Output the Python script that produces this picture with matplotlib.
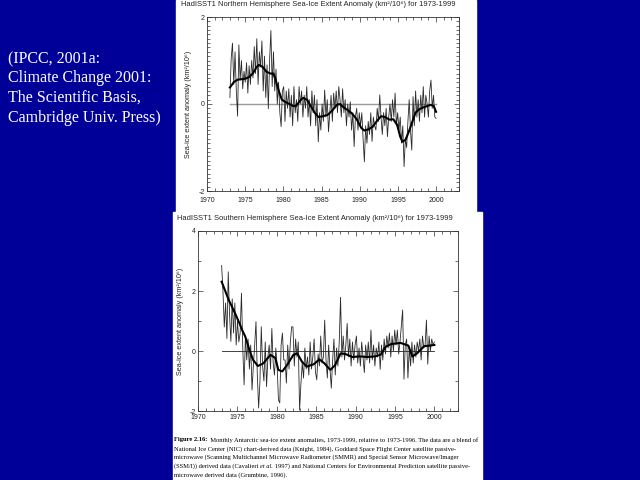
import numpy as np
import matplotlib.pyplot as plt
from matplotlib.patches import Rectangle
from matplotlib.ticker import MultipleLocator

plt.rcParams["axes.unicode_minus"] = False

# Northern hemisphere: monthly anomaly read every ~2 months, 1973-1999
nh_monthly = [
    0.15, 1.05, 1.40, 0.45, 1.20, 0.30,
    -0.28, 1.36, 0.55, 1.00, 0.35, 0.75,
    0.50, 0.95, 0.25, 0.88, 0.45, 1.00,
    0.60, 1.32, 0.70, 1.50, 0.45, 1.20,
    0.85, 1.45, 0.30, 1.10, 0.15, 0.90,
    -0.11, 1.00, 1.69, 0.40, 1.20, 0.30,
    0.80, 0.00, 0.50, -0.20, -0.52, 0.30,
    0.40, -0.40, 0.30, -0.10, 0.35, -0.30,
    0.20, -0.50, 0.40, -0.20, 0.10, -0.40,
    0.40, 0.00, 0.30, -0.30, 0.20, -0.10,
    0.40, -0.30, 0.10, -0.50, 0.30, -0.20,
    0.20, -0.50, 0.10, -0.87, -0.20, -0.60,
    0.00, -0.40, 0.32, -0.30, 0.10, -0.64,
    -0.20, 0.20, -0.40, 0.25, -0.10, 0.30,
    -0.20, 0.40, 0.10, -0.30, 0.35, -0.20,
    0.10, -0.50, 0.00, -0.30, 0.05, -0.60,
    -0.20, -0.98, -0.30, -0.10, -0.60, -0.20,
    -0.50, -0.20, -0.80, -1.33, -0.50, -0.90,
    -0.40, -0.70, -0.20, -0.86, -0.30, -0.50,
    -0.60, -0.10, -0.40, 0.21, -0.30, -0.70,
    -0.20, -0.50, -0.10, -0.75, -0.30, 0.00,
    -0.40, 0.10, -0.30, 0.25, -0.50, -0.20,
    -0.60, -0.30, -0.90, -0.50, -1.44, -0.80,
    -1.00, -0.40, 0.10, -0.60, -1.06, 0.17,
    -0.50, 0.30, -0.30, 0.10, -0.40, 0.20,
    -0.20, 0.40, -0.30, 0.20, 0.00, -0.30,
    0.30, 0.55, -0.10, 0.20, -0.30, -0.33,
]
nh_smooth_yr = [1973.0, 1973.5, 1974.0, 1974.5, 1975.0, 1975.5, 1976.0, 1976.5, 1976.8,
                1977.3, 1977.8, 1978.3, 1978.7, 1979.0, 1979.4, 1979.8, 1980.3, 1980.8,
                1981.3, 1981.7, 1982.2, 1982.6, 1983.1, 1983.6, 1984.1, 1984.6, 1985.2,
                1985.8, 1986.4, 1987.0, 1987.4, 1987.9, 1988.5, 1989.0, 1989.6, 1990.2,
                1990.6, 1991.2, 1991.7, 1992.3, 1992.8, 1993.3, 1993.9, 1994.4, 1994.9,
                1995.3, 1995.6, 1996.0, 1996.4, 1996.9, 1997.3, 1997.8, 1998.3, 1998.8,
                1999.3, 1999.7, 2000.0]
nh_smooth = [0.38, 0.50, 0.56, 0.57, 0.58, 0.62, 0.70, 0.85, 0.90,
             0.85, 0.74, 0.70, 0.70, 0.55, 0.30, 0.10, 0.04, 0.00,
             -0.05, -0.04, 0.08, 0.14, 0.10, -0.05, -0.20, -0.30, -0.28,
             -0.25, -0.15, -0.02, 0.00, -0.08, -0.15, -0.22, -0.35, -0.55,
             -0.61, -0.58, -0.52, -0.38, -0.28, -0.30, -0.36, -0.35, -0.48,
             -0.75, -0.87, -0.82, -0.65, -0.40, -0.20, -0.12, -0.08, -0.05,
             -0.02, -0.05, -0.18]

# Southern hemisphere
sh_monthly = [
    2.85, 2.00, 0.80, 1.60, 0.42, 2.64,
    1.20, 0.32, 1.74, 0.60, 1.60, 0.20,
    1.00, 0.30, 0.60, 1.93, 0.10, -1.13,
    0.50, -0.30, 0.40, -0.60, 0.20, -1.30,
    -0.50, 0.20, 0.98, -0.80, -1.90, -1.00,
    0.81, -0.50, -1.00, 0.30, -1.19, -0.20,
    0.20, -0.60, 0.75, -0.40, -0.80, 0.10,
    -0.50, -1.63, -1.73, 0.20, 0.60, -0.30,
    -0.30, -1.07, 0.20, -0.60, 0.30, 0.81,
    0.80, -0.50, 0.40, -0.20, 0.30, -1.97,
    -1.10, -0.40, -0.90, 0.10, -0.60, -0.20,
    -0.80, 0.30, -0.60, -0.20, 0.40, -0.70,
    -0.96, -0.10, -0.50, 0.50, -0.40, -0.20,
    1.03, -0.30, -0.90, 0.20, -0.60, -1.24,
    -0.30, 0.40, -0.80, 0.10, -0.50, 0.30,
    1.79, -0.20, 0.50, -0.30, 0.20, 0.92,
    -0.20, 0.40, -0.50, 0.30, -0.30, 0.20,
    0.50, -0.40, 0.10, -0.50, 0.30, -0.20,
    -0.72, 0.20, -0.30, 0.30, -0.40, 0.70,
    -0.30, 0.20, -0.50, 0.10, -0.20, 0.30,
    -0.61, 0.20, -0.30, 0.40, -0.10, 0.50,
    0.10, 0.60, -0.20, 0.50, 0.00, 0.70,
    0.20, 0.70, -0.10, 0.30, 0.85, 1.37,
    -0.94, 0.20, 0.40, -0.90, 0.10, -0.50,
    0.30, -0.40, 0.20, -0.20, 0.30, 0.00,
    0.40, -0.30, 0.50, 0.10, 0.20, 1.03,
    -0.44, 0.50, 0.00, 0.40, 0.20, 0.30,
]
sh_smooth_yr = [1973.0, 1973.9, 1974.7, 1975.3, 1975.6, 1976.0, 1976.6, 1977.0, 1977.6,
                1978.3, 1978.8, 1979.2, 1979.8, 1980.2, 1980.7, 1981.3, 1982.1, 1982.6,
                1983.2, 1983.8, 1984.7, 1985.4, 1986.0, 1986.8, 1987.4, 1988.1, 1988.7,
                1989.6, 1990.5, 1991.5, 1992.5, 1993.2, 1993.8, 1994.5, 1995.7, 1996.7,
                1997.2, 1997.8, 1998.7, 2000.0]
sh_smooth = [2.31, 1.70, 1.26, 0.90, 0.70, 0.48, -0.02, -0.30, -0.50,
             -0.41, -0.25, -0.13, -0.23, -0.63, -0.68, -0.47, -0.13, -0.08,
             -0.36, -0.52, -0.44, -0.28, -0.40, -0.63, -0.47, -0.08, -0.10,
             -0.20, -0.18, -0.20, -0.18, -0.12, 0.14, 0.23, 0.27, 0.18,
             -0.18, -0.08, 0.16, 0.20]

nh_titles = "HadISST1 Northern Hemisphere Sea-Ice Extent Anomaly (km\u00b2/10\u2076) for 1973-1999"
sh_titles = "HadISST1 Southern Hemisphere Sea-Ice Extent Anomaly (km\u00b2/10\u2076) for 1973-1999"
ylabel = "Sea-ice extent anomaly (km\u00b2/10\u2076)"
source_lines = ["(IPCC, 2001a:", "Climate Change 2001:", "The Scientific Basis,", "Cambridge Univ. Press)"]

sans = ["Liberation Sans", "DejaVu Sans"]
serif = ["Liberation Serif", "DejaVu Serif"]
W, H = 640, 480

fig = plt.figure(figsize=(6.4, 4.8), dpi=100, facecolor="#000099")

# white cut-outs for the two scanned panels
fig.patches.append(Rectangle((176 / W, 1 - 212 / H), 300 / W, 212 / H,
                             transform=fig.transFigure, color="white", zorder=-5))
fig.patches.append(Rectangle((173 / W, 0), 309 / W, 268 / H,
                             transform=fig.transFigure, color="white", zorder=-5))


def make_axes(box, ylim, ymaj, ymin, pad_x, pad_y):
    l, t, r, b = box
    ax = fig.add_axes([l / W, 1 - b / H, (r - l) / W, (b - t) / H])
    ax.set_facecolor("none")
    ax.set_xlim(1970, 2003)
    ax.set_ylim(*ylim)
    ax.xaxis.set_major_locator(MultipleLocator(5))
    ax.xaxis.set_minor_locator(MultipleLocator(1))
    ax.yaxis.set_major_locator(MultipleLocator(ymaj))
    ax.yaxis.set_minor_locator(MultipleLocator(ymin))
    ax.set_xticks(np.arange(1970, 2001, 5))
    for s in ax.spines.values():
        s.set_linewidth(0.6)
        s.set_color("#333333")
    ax.tick_params(which="both", direction="in", top=True, right=True,
                   width=0.5, color="#333333", labelsize=5, labelcolor="#222222")
    ax.tick_params(which="major", length=3.5)
    ax.tick_params(which="minor", length=2)
    ax.tick_params(axis="x", pad=pad_x)
    ax.tick_params(axis="y", pad=pad_y)
    for lab in ax.get_xticklabels() + ax.get_yticklabels():
        lab.set_family(sans)
    return ax


# top panel
ax1 = make_axes((207, 17, 459, 191), (-2, 2), 2, 0.1, 4, 1.5)
t_nh = np.linspace(1973, 2000, len(nh_monthly))
ax1.plot([1973, 2000], [0, 0], color="#9a9a9a", lw=1.0)
ax1.plot(t_nh, nh_monthly, color="#2a2a2a", lw=0.6)
ax1.plot(nh_smooth_yr, nh_smooth, color="black", lw=1.5)

# bottom panel
ax2 = make_axes((198, 231, 458, 411), (-2, 4), 2, 1, 2.5, 1.5)
t_sh = np.linspace(1973, 2000, len(sh_monthly))
ax2.plot([1973, 2000], [0, 0], color="#222222", lw=0.6)
ax2.plot(t_sh, sh_monthly, color="#2a2a2a", lw=0.6)
ax2.plot(sh_smooth_yr, sh_smooth, color="black", lw=1.5)

fig.text(318 / W, 1 - 5 / H, nh_titles, ha="center", va="center",
         fontsize=5.4, family=sans, color="#222222")
fig.text(315 / W, 1 - 218 / H, sh_titles, ha="center", va="center",
         fontsize=5.4, family=sans, color="#222222")
fig.text(188 / W, 1 - 104 / H, ylabel, rotation=90, ha="center", va="center",
         fontsize=5.2, family=sans, color="#222222")
fig.text(180 / W, 1 - 321 / H, ylabel, rotation=90, ha="center", va="center",
         fontsize=5.2, family=sans, color="#222222")

for i, line in enumerate(source_lines):
    fig.text(8 / W, 1 - (63 + 19.5 * i) / H, line, ha="left", va="baseline",
             fontsize=11.5, family=serif, color="white")

# caption under the lower panel, pieces placed one after another
caption = [
    [("Figure 2.16:", {"weight": "bold"}),
     ("  Monthly Antarctic sea-ice extent anomalies, 1973-1999, relative to 1973-1996. The data are a blend of", {})],
    [("National Ice Center (NIC) chart-derived data (Knight, 1984), Goddard Space Flight Center satellite passive-", {})],
    [("microwave (Scanning Multichannel Microwave Radiometer (SMMR) and Special Sensor Microwave/Imager", {})],
    [("(SSM/I)) derived data (Cavalieri ", {}), ("et al.", {"style": "italic"}),
     (" 1997) and National Centers for Environmental Prediction satellite passive-", {})],
    [("microwave derived data (Grumbine, 1996).", {})],
]
renderer = fig.canvas.get_renderer()
for i, pieces in enumerate(caption):
    x = 174 / W
    for txt, kw in pieces:
        t = fig.text(x, 1 - (440 + 8.8 * i) / H, txt, ha="left", va="center",
                     fontsize=4.65, family=serif, color="black", **kw)
        x = t.get_window_extent(renderer=renderer).x1 / W

fig.savefig("out.png", dpi=100, facecolor=fig.get_facecolor())
